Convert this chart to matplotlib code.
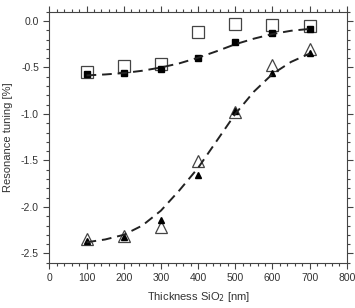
import matplotlib
matplotlib.use('Agg')
import matplotlib.pyplot as plt
from matplotlib.ticker import MultipleLocator, FormatStrFormatter

plt.rcParams['font.family'] = ['Liberation Sans', 'DejaVu Sans']
plt.rcParams['axes.unicode_minus'] = False

thickness = [100, 200, 300, 400, 500, 600, 700]

# squares
sq_open = [-0.55, -0.48, -0.465, -0.12, -0.035, -0.046, -0.055]
sq_fill = [-0.575, -0.555, -0.52, -0.40, -0.225, -0.13, -0.086]
# triangles
tri_open = [-2.34, -2.31, -2.22, -1.51, -0.98, -0.47, -0.30]
tri_fill = [-2.37, -2.325, -2.145, -1.655, -0.965, -0.555, -0.34]

# dashed fit curves
fit_x = [100, 150, 200, 250, 300, 350, 400, 450, 500, 550, 600, 650, 700]
fit_sq = [-0.585, -0.575, -0.56, -0.535, -0.50, -0.455, -0.395, -0.325, -0.25, -0.19, -0.14, -0.105, -0.085]
fit_tri = [-2.38, -2.35, -2.30, -2.20, -2.04, -1.82, -1.58, -1.29, -1.00, -0.76, -0.57, -0.44, -0.35]

fig = plt.figure(figsize=(3.55, 3.08), dpi=100)
ax = fig.add_axes([0.139, 0.147, 0.838, 0.815])

ink = '#222222'
ax.plot(thickness, sq_open, 's', ms=8.5, mfc='white', mec='#444444', mew=0.9, zorder=2)
ax.plot(thickness, tri_open, '^', ms=8.5, mfc='white', mec='#444444', mew=0.9, zorder=2)
ax.plot(thickness, sq_fill, 's', ms=5, mfc='black', mec='black', zorder=3)
ax.plot(thickness, tri_fill, '^', ms=4.5, mfc='black', mec='black', zorder=3)
ax.plot(fit_x, fit_sq, color=ink, lw=1.4, dashes=(5, 3), zorder=4)
ax.plot(fit_x, fit_tri, color=ink, lw=1.4, dashes=(5, 3), zorder=4)

ax.set_xlim(0, 800)
ax.set_ylim(-2.6, 0.1)
ax.xaxis.set_major_locator(MultipleLocator(100))
ax.xaxis.set_minor_locator(MultipleLocator(20))
ax.yaxis.set_major_locator(MultipleLocator(0.5))
ax.yaxis.set_minor_locator(MultipleLocator(0.1))
ax.yaxis.set_major_formatter(FormatStrFormatter('%.1f'))

ax.tick_params(which='both', direction='out', top=True, right=True,
               labelsize=7.5, labelcolor='#333333', color='#444444', width=0.8)
ax.tick_params(which='major', length=4)
ax.tick_params(which='minor', length=2.5)
for s in ax.spines.values():
    s.set_color('#444444')
    s.set_linewidth(0.8)

ax.set_xlabel('Thickness SiO$_2$ [nm]', fontsize=8, color='#333333', labelpad=5)
ax.set_ylabel('Resonance tuning [%]', fontsize=8, color='#333333', labelpad=6)

fig.savefig('out.png', dpi=100)
